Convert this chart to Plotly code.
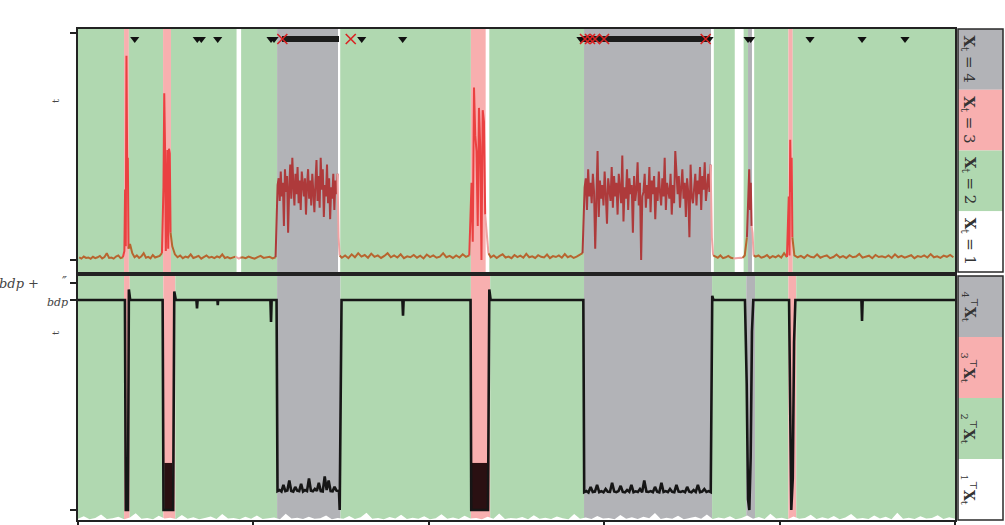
import numpy as np
import plotly.graph_objects as go

# ---------------------------------------------------------------- data
tick_times = [0, 200, 400, 600, 800, 1000]

state_fill = {1: "#ffffff", 2: "#b0d8b0", 3: "#f8afaf", 4: "#b2b3b7"}
state_line = {1: "#f0a2a2", 2: "#b8652f", 3: "#ea4141", 4: "#ae3a3b"}

# decoded states X_t (upper panel): boundaries and state of each stretch
top_bounds = [0, 52.5, 58, 97, 106, 181, 186, 227, 296.5, 299, 448, 465, 469,
              577, 722, 725, 749, 759, 764, 768.5, 771, 810, 815, 1000]
top_states = [2, 3, 2, 3, 2, 1, 2, 4, 1, 2, 3, 1, 2, 4, 1, 2, 1, 2, 4, 1, 2, 3, 2]

# observed signal, one list per stretch
signal = [
    [0.012, 0.006, 0.015, 0.009, 0.011, 0.005, 0.014, 0.008, 0.012, 0.018,
     0.007, 0.013, 0.03, 0.009, 0.011, 0.006, 0.015, 0.02, 0.008, 0.012],
    [0.04, 0.31, 0.06, 0.90, 0.44, 0.45, 0.05],
    [0.07, 0.03, 0.012, 0.02, 0.009, 0.016, 0.03, 0.01, 0.014, 0.007,
     0.022, 0.011, 0.013, 0.018, 0.03],
    [0.32, 0.735, 0.5, 0.04, 0.33, 0.485, 0.05, 0.49, 0.47, 0.12],
    [0.06, 0.025, 0.012, 0.02, 0.008, 0.015, 0.011, 0.025, 0.009, 0.013,
     0.018, 0.006, 0.012, 0.02, 0.01, 0.014, 0.008, 0.016, 0.011, 0.025,
     0.009, 0.013, 0.007, 0.012, 0.015],
    [0.01, 0.006, 0.01],
    [0.012, 0.008, 0.015, 0.01, 0.006, 0.013, 0.018, 0.009, 0.011, 0.014,
     0.007, 0.012],
    [0.33, 0.36, 0.26, 0.39, 0.28, 0.34, 0.15, 0.40, 0.30, 0.37, 0.12, 0.31,
     0.42, 0.27, 0.45, 0.33, 0.24, 0.38, 0.29, 0.41, 0.25, 0.35, 0.22, 0.39,
     0.31, 0.28, 0.36, 0.20, 0.33, 0.40, 0.27, 0.35, 0.24, 0.38, 0.30, 0.21,
     0.34, 0.44, 0.26, 0.37, 0.23, 0.45, 0.31, 0.40, 0.19, 0.33, 0.28, 0.42,
     0.25, 0.36, 0.18, 0.32, 0.27, 0.38, 0.22, 0.35, 0.29, 0.38],
    [0.10, 0.02],
    [0.01, 0.02, 0.008, 0.025, 0.012, 0.03, 0.015, 0.022, 0.01, 0.028,
     0.014, 0.02, 0.009, 0.018, 0.03, 0.012, 0.02, 0.011, 0.025, 0.008,
     0.016, 0.012, 0.022, 0.01, 0.019, 0.007, 0.024, 0.013, 0.02, 0.01,
     0.015, 0.03, 0.012, 0.018, 0.009, 0.02, 0.011, 0.025, 0.014, 0.02],
    [0.34, 0.08, 0.76, 0.55, 0.48, 0.15, 0.67, 0.5, 0.0, 0.66, 0.61, 0.2],
    [0.13, 0.03],
    [0.012, 0.02, 0.009, 0.018, 0.025, 0.011, 0.015, 0.008, 0.022, 0.013,
     0.019, 0.01, 0.027, 0.012, 0.016, 0.009, 0.021, 0.014, 0.011, 0.024,
     0.008, 0.017, 0.013, 0.02, 0.01, 0.026, 0.012, 0.018, 0.009, 0.015,
     0.022, 0.03],
    [0.32, 0.36, 0.22, 0.40, 0.28, 0.34, 0.25, 0.38, 0.30, 0.05, 0.34, 0.48,
     0.19, 0.35, 0.27, 0.33, 0.24, 0.39, 0.29, 0.16, 0.36, 0.31, 0.26, 0.41,
     0.23, 0.37, 0.28, 0.34, 0.20, 0.38, 0.30, 0.25, 0.46, 0.17, 0.32, 0.27,
     0.40, 0.22, 0.36, 0.29, 0.33, 0.12, 0.37, 0.26, 0.31, 0.43, 0.24, 0.34,
     0.00, 0.28, 0.30, 0.38, 0.23, 0.33, 0.27, 0.41, 0.21, 0.35, 0.29, 0.37,
     0.18, 0.32, 0.26, 0.39, 0.30, 0.24, 0.36, 0.28, 0.45, 0.22, 0.34, 0.31,
     0.27, 0.38, 0.20, 0.33, 0.25, 0.48, 0.35, 0.29, 0.37, 0.23, 0.32, 0.40,
     0.27, 0.34, 0.19, 0.36, 0.30, 0.10, 0.42, 0.28, 0.25, 0.33, 0.38, 0.24,
     0.35, 0.29, 0.41, 0.22, 0.37, 0.31, 0.43, 0.26, 0.34, 0.38, 0.30, 0.42],
    [0.10, 0.02],
    [0.015, 0.01, 0.02, 0.008, 0.012, 0.018, 0.01, 0.007],
    [0.008, 0.012, 0.01, 0.009],
    [0.02, 0.10],
    [0.30, 0.40, 0.22, 0.34, 0.15],
    [0.12, 0.02],
    [0.015, 0.02, 0.01, 0.014, 0.022, 0.009, 0.017, 0.012, 0.02, 0.011,
     0.03, 0.013],
    [0.28, 0.02, 0.53, 0.30, 0.45, 0.10],
    [0.02, 0.012, 0.018, 0.009, 0.022, 0.014, 0.011, 0.025, 0.01, 0.016,
     0.02, 0.008, 0.013, 0.024, 0.011, 0.017, 0.009, 0.021, 0.012, 0.015,
     0.027, 0.01, 0.014, 0.019, 0.008, 0.022, 0.013, 0.016, 0.011, 0.02,
     0.009, 0.025, 0.012, 0.018, 0.01, 0.015, 0.021, 0.008, 0.017, 0.013,
     0.02, 0.011, 0.026, 0.012, 0.016, 0.009, 0.019, 0.014, 0.022, 0.012],
]

# event markers on the top row
event_tri_t = [64.7, 136.0, 140.6, 159.3, 220.1, 223.5, 323.5, 370.2, 573.5,
               719.5, 764.0, 767.0, 834.7, 894.0, 943.0]
event_x_t = [233.0, 311.0, 578.1, 583.8, 589.5, 599.8, 715.7]
event_runs = [(232.6, 297.6), (574.7, 720.6)]
outside_tri_t = [244.4]
outside_x_t = [376.0]

# smoothed states X_t^T (lower panel)
bot_bounds = [0, 52.5, 59, 97.3, 111, 227, 299.3, 448, 470, 577, 723, 762, 772,
              810, 819, 1000]
bot_states = [2, 3, 2, 3, 2, 4, 2, 3, 2, 4, 2, 4, 2, 3, 2]

# posterior mean path
bdp_t_a = [0, 53.5, 54.5, 57.0, 58.0, 59.5, 96.5, 97.5, 108.5, 109.8, 111.5,
           135.0, 135.7, 136.4, 159.0, 159.4, 159.8, 219.4, 220.1, 220.8, 226.4]
bdp_v_a = [1.0, 1.0, 0.0, 0.0, 1.05, 1.0, 1.0, 0.0, 0.0, 1.04, 1.0,
           1.0, 0.96, 1.0, 1.0, 0.975, 1.0, 1.0, 0.895, 1.0, 1.0]
plateau_a = [0.09, 0.095, 0.088, 0.12, 0.09, 0.093, 0.14, 0.09, 0.087, 0.11,
             0.092, 0.09, 0.125, 0.088, 0.095, 0.09, 0.15, 0.092, 0.089, 0.1,
             0.091, 0.13, 0.09, 0.088, 0.16, 0.095, 0.14, 0.09, 0.089, 0.11,
             0.092, 0.09]
bdp_t_b = [297.6, 298.4, 299.3, 300.5, 369.9, 370.6, 371.3, 447.6, 448.4,
           467.5, 469.0, 470.5, 576.2]
bdp_v_b = [0.09, 0.0, 0.6, 1.0, 1.0, 0.925, 1.0, 1.0, 0.0,
           0.0, 1.05, 1.0, 1.0]
plateau_b = [0.085, 0.09, 0.083, 0.11, 0.086, 0.088, 0.12, 0.085, 0.09, 0.084,
             0.1, 0.087, 0.086, 0.13, 0.088, 0.085, 0.09, 0.115, 0.086, 0.084,
             0.095, 0.087, 0.12, 0.085, 0.089, 0.086, 0.1, 0.085, 0.14, 0.088,
             0.086, 0.09, 0.085, 0.11, 0.087, 0.084, 0.13, 0.086, 0.09, 0.085,
             0.1, 0.087, 0.085, 0.12, 0.088, 0.086, 0.09, 0.085, 0.11, 0.087,
             0.084, 0.095, 0.086, 0.12, 0.085, 0.088, 0.1, 0.086, 0.09, 0.085]
bdp_t_c = [722.3, 723.2, 724.5, 760.5, 762.5, 764.0, 765.5, 767.0, 768.5, 770.0,
           810.8, 812.2, 813.3, 815.0, 816.5, 818.0, 893.3, 894.0, 894.7, 1000]
bdp_v_c = [0.6, 1.02, 1.0, 1.0, 0.6, 0.05, 0.0, 0.25, 0.85, 1.0,
           1.0, 0.3, 0.0, 0.15, 0.8, 1.0, 1.0, 0.9, 1.0, 1.0]

# spread of the path inside the short spikes
band_t0 = [98.4, 448.1]
band_t1 = [107.5, 467.5]
band_hi = [0.224, 0.224]

# probability of state 1 along the bottom edge
idle_prob = [0.006, 0.018, 0.004, 0.010, 0.026, 0.005, 0.008, 0.015, 0.003,
             0.012, 0.032, 0.006, 0.009, 0.004, 0.020, 0.007, 0.011, 0.005,
             0.024, 0.006, 0.013, 0.004, 0.009, 0.017, 0.005, 0.028, 0.007,
             0.010, 0.004, 0.015, 0.006, 0.021, 0.005, 0.009, 0.012, 0.004,
             0.030, 0.007, 0.011, 0.005, 0.016, 0.006, 0.008, 0.022, 0.004,
             0.010, 0.006, 0.019, 0.005, 0.013, 0.035, 0.006, 0.009, 0.004,
             0.014, 0.007, 0.025, 0.005, 0.011, 0.006, 0.018, 0.004, 0.008,
             0.027, 0.006, 0.012, 0.005, 0.020, 0.007, 0.009, 0.004, 0.016,
             0.006, 0.031, 0.005, 0.010, 0.007, 0.014, 0.004, 0.023, 0.006,
             0.011, 0.005, 0.017, 0.008, 0.004, 0.029, 0.006, 0.012, 0.005,
             0.019, 0.007, 0.010, 0.004, 0.024, 0.006, 0.013, 0.005, 0.016,
             0.008, 0.033, 0.005, 0.011, 0.006, 0.020, 0.004, 0.009, 0.015,
             0.006, 0.026, 0.005, 0.012, 0.007, 0.018, 0.004, 0.010, 0.022,
             0.006, 0.014, 0.005, 0.030, 0.007, 0.011, 0.004, 0.017, 0.006,
             0.009, 0.025, 0.005, 0.013, 0.006, 0.019, 0.004, 0.012, 0.028,
             0.006, 0.010, 0.005, 0.021, 0.007, 0.015, 0.004, 0.034, 0.006,
             0.011, 0.005, 0.018, 0.007, 0.009, 0.023, 0.005, 0.013, 0.006]

# ---------------------------------------------------------------- axes
Y_TOP = [-0.0529, 1.0176]
Y_BOT = [-0.0476, 1.114]
ROW_Y = 0.9736
ROW_Y_OUT = 1.0925

fig = go.Figure()
shapes = []


def add_spans(bounds, states, xref, yref):
    for a, b, s in zip(bounds[:-1], bounds[1:], states):
        shapes.append(dict(type="rect", xref=xref, yref=yref, x0=a, x1=b,
                           y0=0, y1=1, fillcolor=state_fill[s],
                           line=dict(width=0), layer="below"))


add_spans(top_bounds, top_states, "x2", "y2 domain")
add_spans(bot_bounds, bot_states, "x", "y domain")

# signal, coloured by decoded state
prev_t, prev_v = None, None
for a, b, s, vals in zip(top_bounds[:-1], top_bounds[1:], top_states, signal):
    n = len(vals)
    ts = list(a + (np.arange(n) + 0.5) * (b - a) / n)
    vs = list(vals)
    if prev_t is not None:
        ts = [prev_t] + ts
        vs = [prev_v] + vs
    fig.add_trace(go.Scatter(x=ts, y=vs, mode="lines", xaxis="x2", yaxis="y2",
                             line=dict(color=state_line[s], width=2),
                             hoverinfo="skip", showlegend=False))
    prev_t, prev_v = ts[-1], vs[-1]

# event row
for a, b in event_runs:
    fig.add_trace(go.Scatter(x=[a, b], y=[ROW_Y, ROW_Y], mode="lines",
                             xaxis="x2", yaxis="y2",
                             line=dict(color="#1c1c1c", width=6),
                             hoverinfo="skip", showlegend=False))
fig.add_trace(go.Scatter(x=event_tri_t, y=[ROW_Y] * len(event_tri_t),
                         mode="markers", xaxis="x2", yaxis="y2",
                         marker=dict(symbol="triangle-down", size=8,
                                     color="#111111"),
                         hoverinfo="skip", showlegend=False))
fig.add_trace(go.Scatter(x=event_x_t, y=[ROW_Y] * len(event_x_t),
                         mode="markers", xaxis="x2", yaxis="y2",
                         marker=dict(symbol="x-thin", size=10,
                                     line=dict(color="#d92323", width=1.6)),
                         hoverinfo="skip", showlegend=False))
fig.add_trace(go.Scatter(x=outside_tri_t, y=[ROW_Y_OUT], mode="markers",
                         xaxis="x2", yaxis="y2", cliponaxis=False,
                         marker=dict(symbol="triangle-down", size=8,
                                     color="#111111"),
                         hoverinfo="skip", showlegend=False))
fig.add_trace(go.Scatter(x=outside_x_t, y=[ROW_Y_OUT], mode="markers",
                         xaxis="x2", yaxis="y2", cliponaxis=False,
                         marker=dict(symbol="x-thin", size=12,
                                     line=dict(color="#e02626", width=1.8)),
                         hoverinfo="skip", showlegend=False))

# lower panel: white strip of state-1 probability at the bottom edge
n_idle = len(idle_prob)
idle_t = list(np.linspace(0, 1000, n_idle))
fig.add_trace(go.Scatter(x=idle_t, y=[Y_BOT[0]] * n_idle, mode="lines",
                         line=dict(width=0), hoverinfo="skip",
                         showlegend=False))
fig.add_trace(go.Scatter(x=idle_t, y=[Y_BOT[0] + p for p in idle_prob],
                         mode="lines", line=dict(width=0, color="white"),
                         fill="tonexty", fillcolor="white", hoverinfo="skip",
                         showlegend=False))

# spread band
for t0, t1, hi in zip(band_t0, band_t1, band_hi):
    fig.add_trace(go.Scatter(x=[t0, t1, t1, t0, t0], y=[0, 0, hi, hi, 0],
                             mode="lines", fill="toself",
                             fillcolor="#2a1012", line=dict(width=0),
                             hoverinfo="skip", showlegend=False))

# posterior mean path
pa_t = list(np.linspace(227.5, 297.0, len(plateau_a)))
pb_t = list(np.linspace(577.2, 721.5, len(plateau_b)))
path_t = bdp_t_a + pa_t + bdp_t_b + pb_t + bdp_t_c
path_v = bdp_v_a + plateau_a + bdp_v_b + plateau_b + bdp_v_c
fig.add_trace(go.Scatter(x=path_t, y=path_v, mode="lines",
                         line=dict(color="#161616", width=2.6),
                         hoverinfo="skip", showlegend=False))

# ---------------------------------------------------------------- side keys
PX0, PX1 = 78, 955
PY0, PY1 = 520, 29


def px_x(px):
    return (px - PX0) / (PX1 - PX0)


def px_y(py):
    return (PY0 - py) / (PY0 - PY1)


key_x0, key_x1 = px_x(958), px_x(1003)
annotations = []


def add_key(top_px, bot_px, labels, size):
    h = (bot_px - top_px) / 4
    for i, s in enumerate([4, 3, 2, 1]):
        y0 = top_px + i * h
        y1 = y0 + h
        shapes.append(dict(type="rect", xref="paper", yref="paper",
                           x0=key_x0, x1=key_x1, y0=px_y(y1), y1=px_y(y0),
                           fillcolor=state_fill[s], line=dict(width=0)))
        annotations.append(dict(xref="paper", yref="paper", x=px_x(969),
                                y=px_y((y0 + y1) / 2), text=labels[i],
                                textangle=90, showarrow=False,
                                xanchor="center", yanchor="middle",
                                font=dict(family="DejaVu Serif", size=size,
                                          color="#333333")))
    shapes.append(dict(type="rect", xref="paper", yref="paper",
                       x0=key_x0, x1=key_x1, y0=px_y(bot_px), y1=px_y(top_px),
                       fillcolor="rgba(0,0,0,0)",
                       line=dict(color="#2a2a2a", width=1.5)))


NB = "\u00a0"
add_key(29, 272, [f"<b>X</b><sub>t</sub>{NB}={NB}{k}"
                  for k in (4, 3, 2, 1)], 15)
add_key(276, 520, [f"<sub>{k}</sub><sup>⊤</sup><b>X</b><sub>t</sub>"
                   for k in (4, 3, 2, 1)], 14)

# left-hand labels
lab_font = dict(family="DejaVu Serif", size=13, color="#444444",
                style="italic")
annotations += [
    dict(xref="paper", yref="y", x=px_x(41), y=1.076, text="bdp +",
         xanchor="right", yanchor="middle", showarrow=False, font=lab_font),
    dict(xref="paper", yref="y", x=px_x(69), y=1.09, text="″",
         xanchor="right", yanchor="middle", showarrow=False, font=lab_font),
    dict(xref="paper", yref="y", x=px_x(70), y=0.99, text="bdp",
         xanchor="right", yanchor="middle", showarrow=False,
         font=dict(family="DejaVu Serif", size=11, color="#444444",
                   style="italic")),
    dict(xref="paper", yref="y2", x=px_x(56), y=(260 - 101) / 227, text="t",
         textangle=-90, xanchor="center", yanchor="middle", showarrow=False,
         font=dict(family="DejaVu Serif", size=10, color="#444444")),
    dict(xref="paper", yref="y", x=px_x(56), y=(510 - 333) / 210, text="t",
         textangle=-90, xanchor="center", yanchor="middle", showarrow=False,
         font=dict(family="DejaVu Serif", size=10, color="#444444")),
]

frame = dict(showline=True, mirror=True, linewidth=2, linecolor="#222222",
             showgrid=False, zeroline=False, automargin=False)

fig.update_layout(
    width=1005, height=525,
    margin=dict(l=78, r=50, t=29, b=5, autoexpand=False),
    paper_bgcolor="white", plot_bgcolor="white",
    showlegend=False, hovermode=False,
    shapes=shapes, annotations=annotations,
    xaxis=dict(domain=[0, 1], anchor="y", range=[0, 1000],
               tickvals=tick_times, ticks="outside", ticklen=7, tickwidth=2,
               tickcolor="#222222", showticklabels=False, **frame),
    xaxis2=dict(domain=[0, 1], anchor="y2", range=[0, 1000], matches="x",
                ticks="", showticklabels=False, **frame),
    yaxis=dict(domain=[0, (520 - 276) / 491], anchor="x", range=Y_BOT,
               tickvals=[0, 1, 1.081], ticks="outside", ticklen=6,
               tickwidth=2, tickcolor="#222222", showticklabels=False,
               **frame),
    yaxis2=dict(domain=[(520 - 272) / 491, 1], anchor="x2", range=Y_TOP,
                tickvals=[0, 1], ticks="outside", ticklen=6, tickwidth=2,
                tickcolor="#222222", showticklabels=False, **frame),
)

fig.write_html("out.html")
